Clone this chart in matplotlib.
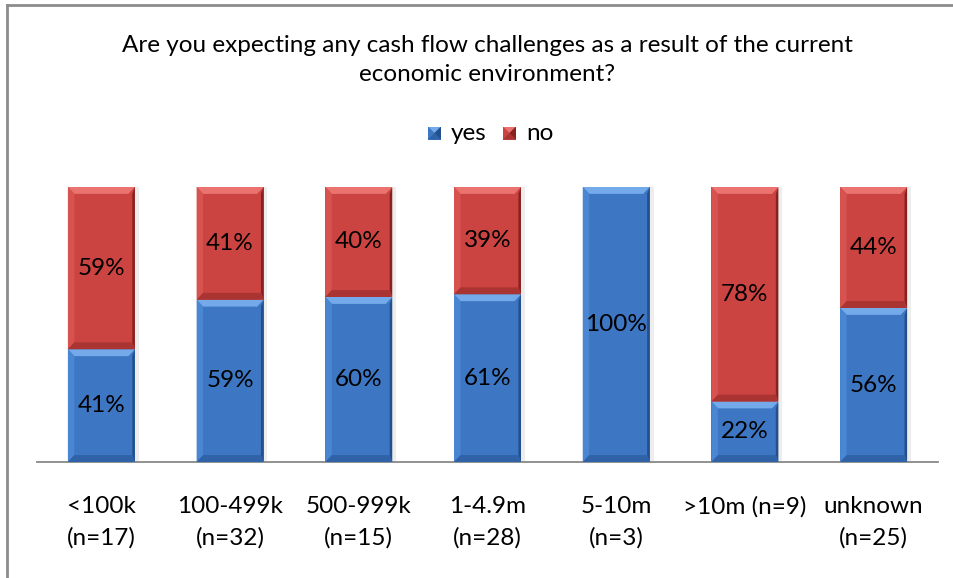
import matplotlib
matplotlib.use("Agg")
import matplotlib.pyplot as plt
from matplotlib.patches import Polygon, Rectangle
import numpy as np

categories = ["<100k\n(n=17)", "100-499k\n(n=32)", "500-999k\n(n=15)", "1-4.9m\n(n=28)",
              "5-10m\n(n=3)", ">10m (n=9)", "unknown\n(n=25)"]
yes_vals = [41, 59, 60, 61, 100, 22, 56]
no_vals = [59, 41, 40, 39, 0, 78, 44]
series_names = ["yes", "no"]
title = "Are you expecting any cash flow challenges as a result of the current\neconomic environment?"

plt.rcParams['font.family'] = ['Lato', 'DejaVu Sans']

W, H = 954, 578
fig = plt.figure(figsize=(W / 100, H / 100), dpi=100)
ax = fig.add_axes([37 / W, 1 - 462 / H, (938 - 37) / W, (462 - 187) / H])

palette = {
    "yes": dict(body="#3d76c2", top="#74aaea", left="#4a86d2", right="#244f8c", bottom="#2f62a6"),
    "no": dict(body="#cc4441", top="#ea7370", left="#d65350", right="#862320", bottom="#a93432"),
}

FS = 17.5
bw = 0.52
x = np.arange(len(categories))
bx = 0.05   # bevel width in x data units
by = 0.025  # bevel height in y (fraction)


def bevel_bar(xc, y0, h, col):
    if h <= 0:
        return
    l, r = xc - bw / 2, xc + bw / 2
    b, t = y0, y0 + h
    ax.add_patch(Rectangle((r, b), 0.03, h, facecolor="#000000", alpha=0.07, lw=0, zorder=1))
    ax.add_patch(Rectangle((l, b), bw, h, facecolor=col["body"], lw=0, zorder=2))
    ax.add_patch(Polygon([(l, t), (r, t), (r - bx, t - by), (l + bx, t - by)],
                         closed=True, facecolor=col["top"], lw=0, zorder=3))
    ax.add_patch(Polygon([(l, b), (l + bx, b + by), (l + bx, t - by), (l, t)],
                         closed=True, facecolor=col["left"], lw=0, zorder=3))
    ax.add_patch(Polygon([(r, b), (r, t), (r - bx * 0.4, t - by), (r - bx * 0.4, b + by)],
                         closed=True, facecolor=col["right"], lw=0, zorder=3))
    ax.add_patch(Polygon([(l, b), (r, b), (r - bx * 0.4, b + by), (l + bx, b + by)],
                         closed=True, facecolor=col["bottom"], lw=0, zorder=3))


for i in range(len(categories)):
    y = yes_vals[i] / 100
    n = no_vals[i] / 100
    bevel_bar(x[i], 0, y, palette["yes"])
    bevel_bar(x[i], y, n, palette["no"])
    if yes_vals[i] > 0:
        ax.text(x[i], y / 2, f"{yes_vals[i]}%", ha="center", va="center", fontsize=FS, color="black", zorder=5)
    if no_vals[i] > 0:
        ax.text(x[i], y + n / 2, f"{no_vals[i]}%", ha="center", va="center", fontsize=FS, color="black", zorder=5)

ax.set_xlim(-0.5, len(categories) - 0.5)
ax.set_ylim(0, 1)
for s in ["top", "right", "left"]:
    ax.spines[s].set_visible(False)
ax.spines["bottom"].set_color("#888888")
ax.spines["bottom"].set_linewidth(1.3)
ax.set_yticks([])
ax.set_xticks(x)
ax.set_xticklabels(categories, fontsize=FS, linespacing=1.55)
ax.tick_params(axis="x", length=0, pad=24.5)

fig.text(487 / W, 1 - 60 / H, title, ha="center", va="center", fontsize=FS, linespacing=1.5)

def legend_patch(px, py, col):
    s = 13
    axl = fig.add_axes([px / W, 1 - (py + s / 2) / H, s / W, s / H])
    axl.set_xlim(0, 1); axl.set_ylim(0, 1); axl.axis("off")
    axl.add_patch(Rectangle((0, 0), 1, 1, facecolor=col["body"], lw=0))
    axl.add_patch(Polygon([(0, 1), (1, 1), (0.5, 0.5)], facecolor=col["top"], lw=0))
    axl.add_patch(Polygon([(0, 0), (1, 0), (0.5, 0.5)], facecolor=col["bottom"], lw=0))
    axl.add_patch(Polygon([(1, 0), (1, 1), (0.5, 0.5)], facecolor=col["right"], lw=0))

legend_patch(428, 133, palette["yes"])
fig.text(451 / W, 1 - 133 / H, series_names[0], ha="left", va="center", fontsize=FS)
legend_patch(503, 133, palette["no"])
fig.text(526 / W, 1 - 133 / H, series_names[1], ha="left", va="center", fontsize=FS)

fig.add_artist(plt.Line2D([7 / W, 7 / W], [0, 1 - 5 / H], color="#8c8c8c", lw=2, transform=fig.transFigure))
fig.add_artist(plt.Line2D([7 / W, 1], [1 - 5 / H, 1 - 5 / H], color="#8c8c8c", lw=2, transform=fig.transFigure))

fig.savefig("out.png", dpi=100)
